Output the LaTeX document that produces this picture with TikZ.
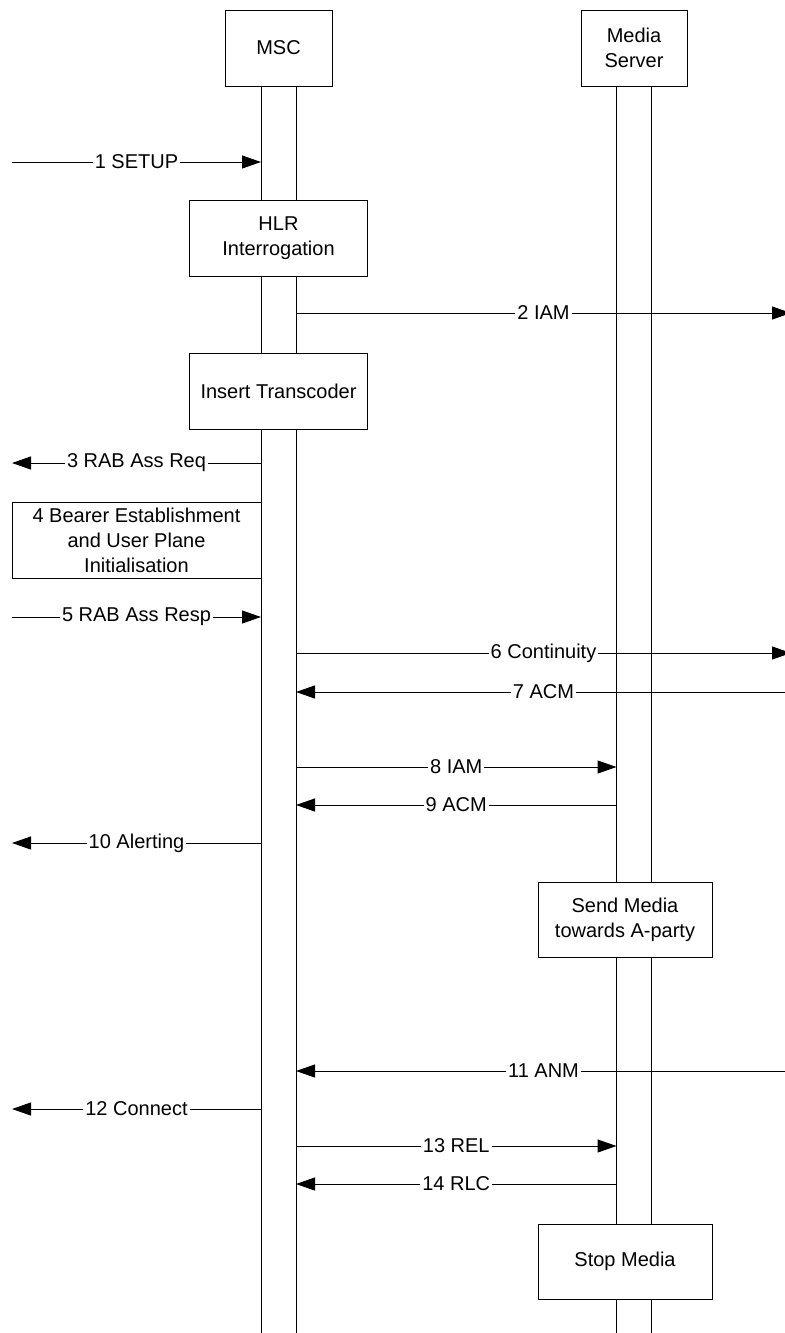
\documentclass[tikz,border=0pt]{standalone}
\usepackage{fontspec}
\setmainfont{Liberation Sans}
\usetikzlibrary{arrows.meta, positioning}

\begin{document}
\begin{tikzpicture}[x=0.5pt, y=-0.5pt]
    \tikzset{
        box/.style = {rectangle, draw, fill=white, line width=0.5pt, inner sep=0pt, align=center, minimum height=38pt, font=\fontsize{10}{12.5}\selectfont},
        life/.style = {draw, line width=0.5pt},
        line/.style = {draw, line width=0.5pt, -{Triangle[length=9.5pt, width=6.5pt]}},
        lbl/.style = {fill=white, inner xsep=1pt, inner ysep=0pt, font=\fontsize{10}{12.5}\selectfont}
    }
    \useasboundingbox (0,0) rectangle (784,1333);

    \node[box, minimum width=53.5pt](msc) at (278.5,48){MSC};
    \node[box, minimum width=53pt](ms)[right = 124pt of msc]{Media\\Server};

    % lifelines
    \coordinate (bottom) at (0,1333);
    \coordinate (mscL) at ([xshift=-8.75pt]msc.south);
    \coordinate (mscR) at ([xshift=8.75pt]msc.south);
    \coordinate (msL) at ([xshift=-8.75pt]ms.south);
    \coordinate (msR) at ([xshift=8.75pt]ms.south);
    \path [life] (mscL) -- (mscL |- bottom);
    \path [life] (mscR) -- (mscR |- bottom);
    \path [life] (msL) -- (msL |- bottom);
    \path [life] (msR) -- (msR |- bottom);

    \node[box, minimum width=89pt](hlr)[below = 56.5pt of msc]{HLR\\Interrogation};
    \node[box, minimum width=89pt](trans)[below = 38pt of hlr]{Insert Transcoder};
    \node[box, minimum width=124.5pt](bearer) at (136.5,540){4 Bearer Establishment\\and User Plane\\Initialisation};
    \node[box, minimum width=87pt, minimum height=37.5pt](send) at (625,919.5){Send Media\\towards A-party};
    \node[box, minimum width=87pt, minimum height=37.5pt](stop)[below = 133pt of send]{Stop Media};

    % message rows
    \coordinate (west) at (12,0);
    \coordinate (east) at (791,0);
    \coordinate (r1) at (0,162);
    \coordinate (r2) at (0,313);
    \coordinate (r3) at (0,463);
    \coordinate (r5) at (0,617);
    \coordinate (r6) at (0,653);
    \coordinate (r7) at (0,692);
    \coordinate (r8) at (0,767);
    \coordinate (r9) at (0,805);
    \coordinate (r10) at (0,843);
    \coordinate (r11) at (0,1071);
    \coordinate (r12) at (0,1109);
    \coordinate (r13) at (0,1146);
    \coordinate (r14) at (0,1184);

    \path [line] (west |- r1) -- node[lbl](l1){1 SETUP} (mscL |- r1);
    \path [line] (mscR |- r2) -- node[lbl](l2){2 IAM} (east |- r2);
    \path [line] (mscL |- r3) -- node[lbl](l3){3 RAB Ass Req} (west |- r3);
    \path [line] (west |- r5) -- node[lbl](l5){5 RAB Ass Resp} (mscL |- r5);
    \path [line] (mscR |- r6) -- node[lbl](l6){6 Continuity} (east |- r6);
    \path [line] (east |- r7) -- node[lbl](l7){7 ACM} (mscR |- r7);
    \path [line] (mscR |- r8) -- node[lbl](l8){8 IAM} (msL |- r8);
    \path [line] (msL |- r9) -- node[lbl](l9){9 ACM} (mscR |- r9);
    \path [line] (mscL |- r10) -- node[lbl](l10){10 Alerting} (west |- r10);
    \path [line] (east |- r11) -- node[lbl](l11){11 ANM} (mscR |- r11);
    \path [line] (mscL |- r12) -- node[lbl](l12){12 Connect} (west |- r12);
    \path [line] (mscR |- r13) -- node[lbl](l13){13 REL} (msL |- r13);
    \path [line] (msL |- r14) -- node[lbl](l14){14 RLC} (mscR |- r14);

\end{tikzpicture}
\end{document}
